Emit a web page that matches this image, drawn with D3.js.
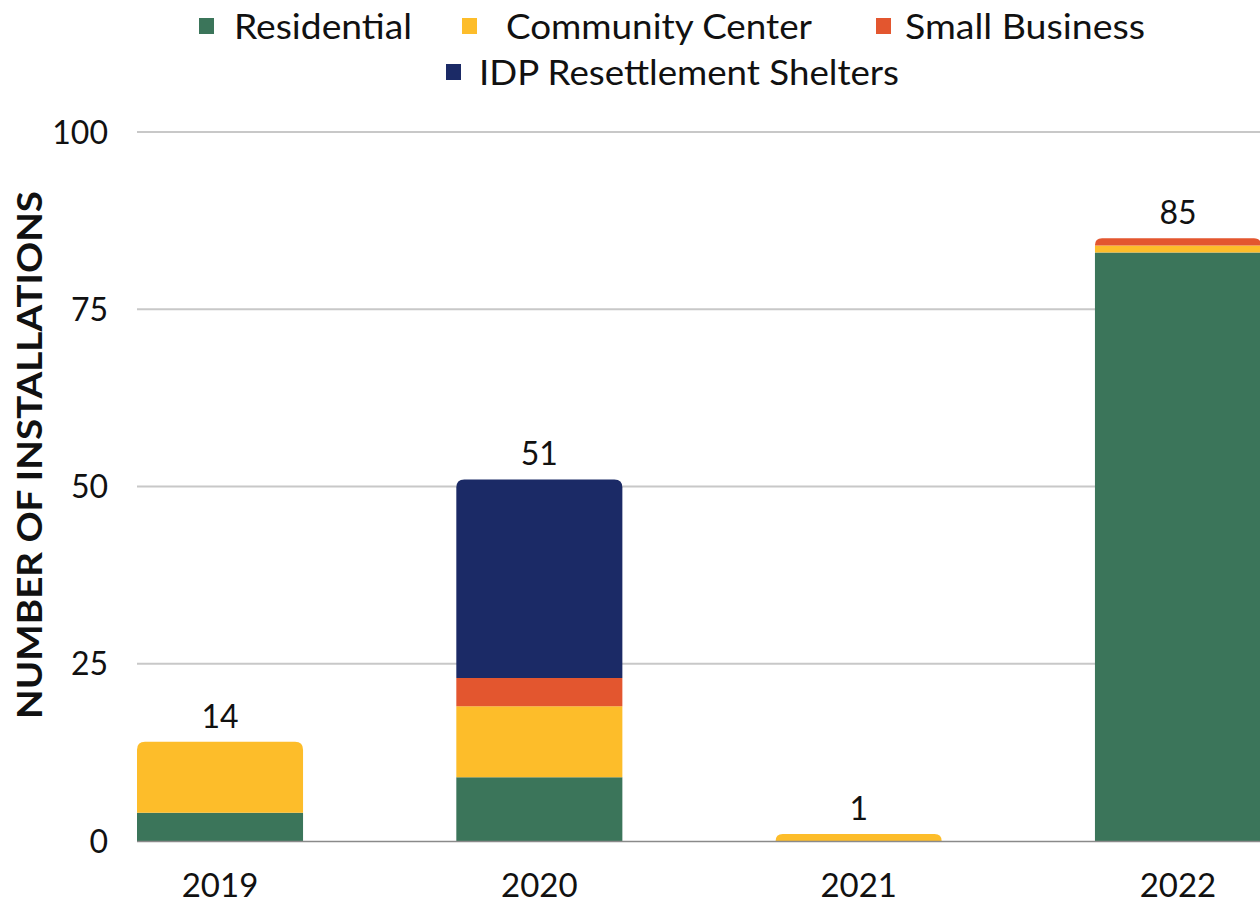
<!DOCTYPE html>
<html>
<head>
<meta charset="utf-8">
<title>Installations</title>
<script src="https://cdn.jsdelivr.net/npm/d3@7"></script>
<style>
  html, body { margin: 0; padding: 0; background: #fff; }
  svg { display: block; font-family: Lato, "Noto Sans", sans-serif; }
  .grid line { stroke: #c8c8c8; stroke-width: 2; }
  .tick-y text { font-size: 32px; fill: #111; }
</style>
</head>
<body>
<div id="chart"></div>
<script>
var years = ["2019", "2020", "2021", "2022"];
var seriesNames = ["Residential", "Community Center", "Small Business", "IDP Resettlement Shelters"];
var residential = [4, 9, 0, 83];
var communityCenter = [10, 10, 1, 1];
var smallBusiness = [0, 4, 0, 1];
var idpShelters = [0, 28, 0, 0];
var yTicks = [0, 25, 50, 75, 100];
var colors = ["#3b755a", "#fdbd2a", "#e3562f", "#1b2a66"];

var width = 1260, height = 905;

var rows = years.map(function(y, i) {
  return {year: y, "Residential": residential[i], "Community Center": communityCenter[i],
          "Small Business": smallBusiness[i], "IDP Resettlement Shelters": idpShelters[i]};
});

var svg = d3.select("#chart").append("svg").attr("width", width).attr("height", height);

var x = d3.scaleBand().domain(years).range([137, 1261]).paddingInner(0.48).paddingOuter(0).align(0);
var y = d3.scaleLinear().domain([0, 100]).range([841, 132]);

// gridlines
svg.append("g").attr("class", "grid")
  .selectAll("line").data(yTicks.filter(function(d) { return d > 0; })).enter().append("line")
  .attr("x1", 137).attr("x2", width)
  .attr("y1", function(d) { return y(d); }).attr("y2", function(d) { return y(d); });

// y tick labels
svg.append("g").attr("class", "tick-y")
  .selectAll("text").data(yTicks).enter().append("text")
  .attr("x", 108).attr("y", function(d) { return y(d); })
  .attr("dy", "0.36em").attr("text-anchor", "end")
  .text(function(d) { return d; });

var stack = d3.stack().keys(seriesNames);
var layers = stack(rows);

// which layer sits on top of each bar, it gets the rounded corners
var topIndex = years.map(function(yr, i) {
  var t = -1;
  layers.forEach(function(l, k) { if (l[i][1] - l[i][0] > 0) t = k; });
  return t;
});

function barPath(x0, w, yTop, yBot, r) {
  r = Math.min(r, (yBot - yTop));
  return "M" + x0 + "," + yBot +
    "V" + (yTop + r) +
    "Q" + x0 + "," + yTop + " " + (x0 + r) + "," + yTop +
    "H" + (x0 + w - r) +
    "Q" + (x0 + w) + "," + yTop + " " + (x0 + w) + "," + (yTop + r) +
    "V" + yBot + "Z";
}

layers.forEach(function(layer, k) {
  svg.append("g").selectAll("path").data(layer).enter().append("path")
    .filter(function(d) { return d[1] - d[0] > 0; })
    .attr("fill", colors[k])
    .attr("d", function(d) {
      var idx = years.indexOf(d.data.year);
      var x0 = x(d.data.year), w = x.bandwidth();
      var yt = y(d[1]), yb = y(d[0]);
      if (topIndex[idx] === k) return barPath(x0, w, yt, yb, 8);
      return "M" + x0 + "," + yb + "V" + yt + "H" + (x0 + w) + "V" + yb + "Z";
    });
});

// baseline
svg.append("line").attr("x1", 137).attr("x2", width).attr("y1", 841.5).attr("y2", 841.5)
  .attr("stroke", "#8a8a8a").attr("stroke-width", 1.5);

function total(d) { return d3.sum(seriesNames, function(s) { return d[s]; }); }

// totals
svg.append("g").selectAll("text").data(rows).enter().append("text")
  .attr("x", function(d) { return x(d.year) + x.bandwidth() / 2; })
  .attr("y", function(d) { return y(total(d)) - 14; })
  .attr("text-anchor", "middle").attr("font-size", 32).attr("fill", "#111")
  .text(total);

// year labels
svg.append("g").selectAll("text").data(years).enter().append("text")
  .attr("x", function(d) { return x(d) + x.bandwidth() / 2; })
  .attr("y", 897).attr("text-anchor", "middle").attr("font-size", 33).attr("fill", "#111")
  .text(function(d) { return d; });

// y axis title
svg.append("text")
  .attr("transform", "translate(42,455) rotate(-90)")
  .attr("text-anchor", "middle").attr("font-weight", "bold").attr("font-size", 35)
  .attr("fill", "#111")
  .attr("textLength", 528).attr("lengthAdjust", "spacingAndGlyphs")
  .text("NUMBER OF INSTALLATIONS");

// legend
var legendPos = [
  {sx: 199, tx: 234, y: 26, w: 178},
  {sx: 462, tx: 506, y: 26, w: 306},
  {sx: 876, tx: 905, y: 26, w: 240},
  {sx: 446, tx: 479, y: 72, w: 420}
];
var legend = svg.append("g").selectAll("g").data(seriesNames).enter().append("g");
legend.append("rect")
  .attr("x", function(d, i) { return legendPos[i].sx; })
  .attr("y", function(d, i) { return legendPos[i].y - 8; })
  .attr("width", 15).attr("height", 16)
  .attr("fill", function(d, i) { return colors[i]; });
legend.append("text")
  .attr("x", function(d, i) { return legendPos[i].tx; })
  .attr("y", function(d, i) { return legendPos[i].y; })
  .attr("dy", "0.36em").attr("font-size", 35).attr("fill", "#111")
  .attr("textLength", function(d, i) { return legendPos[i].w; })
  .attr("lengthAdjust", "spacingAndGlyphs")
  .text(function(d) { return d; });
</script>
</body>
</html>
